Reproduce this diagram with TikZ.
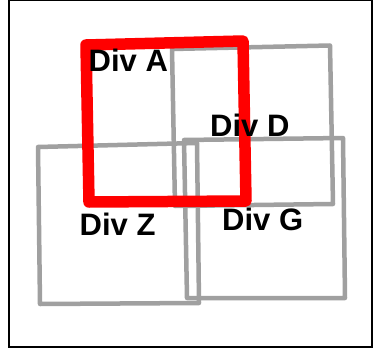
\documentclass[tikz,border=0pt]{standalone}
\usepackage{fontspec}
\setmainfont{Liberation Sans}
\definecolor{boxgray}{HTML}{A0A0A0}
\definecolor{boxred}{HTML}{FF0000}
\begin{document}
\begin{tikzpicture}[x=1pt,y=-1pt,
  frame/.style={draw=black, line width=2pt},
  graybox/.style={draw=boxgray, line width=4.5pt, line join=round},
  redbox/.style={draw=boxred, line width=11.5pt, line join=round},
  divlabel/.style={inner sep=0pt, anchor=base west, font=\bfseries\fontsize{31}{31}\selectfont}]
\useasboundingbox (0,0) rectangle (377,350);
\fill[white] (0,0) rectangle (377,350);
\draw[frame] (9,0) rectangle (372,347);
% Div Z
\draw[graybox] (38,147) -- (197,143) -- (199,303) -- (40,304) -- cycle;
% Div D
\draw[graybox] (172,49) -- (330,45.5) -- (333,204) -- (175,206) -- cycle;
% Div G
\draw[graybox] (184,140) -- (343,138) -- (345,298) -- (187,298) -- cycle;
% Div A (highlighted)
\draw[redbox] (86,45) -- (243,41) -- (246,201) -- (89,202) -- cycle;
\node[divlabel] (a) at (88.5,72) {Div A};
\node[divlabel] (d) at (210,136.5) {Div D};
\node[divlabel] (z) at (79.5,235) {Div Z};
\node[divlabel] (g) at (222,230) {Div G};
\end{tikzpicture}
\end{document}
